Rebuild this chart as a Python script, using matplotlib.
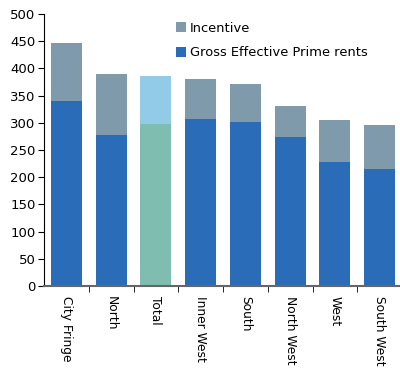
import numpy as np
import matplotlib
matplotlib.use("Agg")
from matplotlib import pyplot as plt

regions = ["City Fringe", "North", "Total", "Inner West", "South",
           "North West", "West", "South West"]
gross = [340, 277, 298, 307, 301, 274, 228, 215]
headline = [447, 390, 386, 380, 371, 331, 305, 296]
incentive = [h - g for h, g in zip(headline, gross)]

blue = "#2b6cb8"
grey = "#7f9aab"
base_cols = [blue] * 8
top_cols = [grey] * 8
base_cols[2] = "#7fbdb0"
top_cols[2] = "#92cbe8"

plt.rcParams['font.family'] = ['DejaVu Sans']
fig = plt.figure(figsize=(4, 3.69), dpi=100)
ax = fig.add_axes([0.11, 0.225, 0.895, 0.737])

x = np.arange(len(regions))
b1 = ax.bar(x, gross, width=0.69, color=base_cols, zorder=2)
b2 = ax.bar(x, incentive, bottom=gross, width=0.69, color=top_cols, zorder=2)

ax.set_xlim(-0.5, 7.5)
ax.set_ylim(0, 500)
ax.set_yticks(range(0, 501, 50))
ax.tick_params(axis='y', labelsize=9.5, length=4, direction='out', pad=2)

ax.set_xticks(x)
ax.set_xticklabels(regions, rotation=270, fontsize=8.8, va='top', ha='center')
ax.tick_params(axis='x', length=0, pad=7)
ax.set_xticks(np.arange(0.5, 7.5, 1), minor=True)
ax.tick_params(axis='x', which='minor', length=4, direction='out')

for s in ['top', 'right']:
    ax.spines[s].set_visible(False)
ax.spines['left'].set_color('black')
ax.spines['bottom'].set_color('#666666')
ax.spines['bottom'].set_linewidth(1.5)
ax.spines['bottom'].set_zorder(3)

ax.legend([b2[0], b1[0]], ["Incentive", "Gross Effective Prime rents"],
          loc='upper left', bbox_to_anchor=(0.335, 1.015), frameon=False,
          fontsize=9.4, handlelength=0.8, handleheight=0.8, handletextpad=0.3,
          labelspacing=0.9)

fig.savefig("out.png", dpi=100)
